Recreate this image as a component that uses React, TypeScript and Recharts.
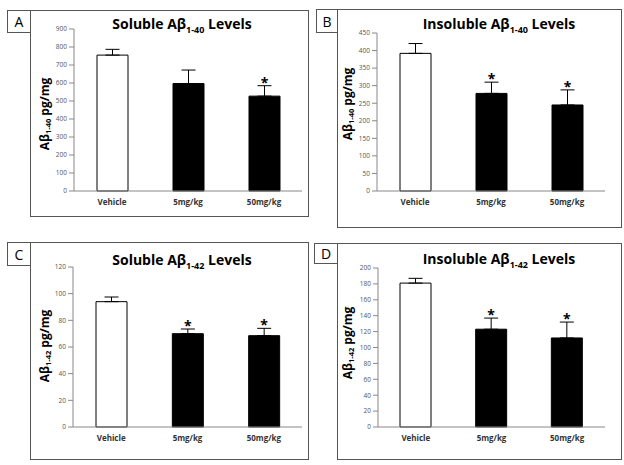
import React from "react";
import { BarChart, Bar, XAxis, YAxis, ErrorBar, Cell, LabelList } from "recharts";

const categories = ["Vehicle", "5mg/kg", "50mg/kg"];

// A: soluble Aβ1-40
const solA40 = [755, 597, 527];
const solA40Err = [32, 75, 58];
const solA40Sig = [false, false, true];
const solA40Ticks = [0, 100, 200, 300, 400, 500, 600, 700, 800, 900];

// B: insoluble Aβ1-40
const insA40 = [392, 278, 245];
const insA40Err = [28, 32, 43];
const insA40Sig = [false, true, true];
const insA40Ticks = [0, 50, 100, 150, 200, 250, 300, 350, 400, 450];

// C: soluble Aβ1-42
const solA42 = [94, 70, 68.5];
const solA42Err = [3.5, 3.5, 5.5];
const solA42Sig = [false, true, true];
const solA42Ticks = [0, 20, 40, 60, 80, 100, 120];

// D: insoluble Aβ1-42
const insA42 = [181, 123, 112];
const insA42Err = [6, 14, 20];
const insA42Sig = [false, true, true];
const insA42Ticks = [0, 20, 40, 60, 80, 100, 120, 140, 160, 180, 200];

const barFills = ["#ffffff", "#000000", "#000000"];

interface PanelProps {
  letter: string;
  title: string;
  sub: string;
  values: number[];
  errs: number[];
  sig: boolean[];
  ticks: number[];
  box: { x: number; y: number; w: number; h: number };
  plot: { x0: number; x1: number; y0: number; y1: number };
  labelBox: { x: number; y: number; w: number; h: number };
  titleX: number;
  titleY: number;
  yLabelX: number;
  yLabelY: number;
}

const titleFont = "'Open Sans', 'Noto Sans', sans-serif";
const tickFont = "'Open Sans', sans-serif";

function Panel(p: PanelProps) {
  const data = categories.map((c, i) => ({
    name: c,
    value: p.values[i],
    err: [0, p.errs[i]],
    sig: p.sig[i] ? "*" : "",
  }));
  const xAxisH = 22;
  const yAxisW = 30;
  const margin = {
    top: p.plot.y0 - p.box.y,
    left: p.plot.x0 - p.box.x - yAxisW,
    right: p.box.x + p.box.w - p.plot.x1,
    bottom: p.box.y + p.box.h - p.plot.y1 - xAxisH,
  };
  const max = p.ticks[p.ticks.length - 1];

  const renderStar = (props: any) => {
    const { x, y, width, height, index, value } = props;
    if (!value) return null;
    const pxPerUnit = height / p.values[index];
    const top = y - p.errs[index] * pxPerUnit;
    return (
      <text
        x={x + width / 2}
        y={top + 2}
        textAnchor="middle"
        fontSize={14}
        fontWeight="bold"
        fontFamily={titleFont}
        fill="#000"
      >
        {value}
      </text>
    );
  };

  return (
    <>
      <div
        style={{
          position: "absolute",
          left: p.box.x,
          top: p.box.y,
          width: p.box.w,
          height: p.box.h,
          border: "1px solid #555",
          boxSizing: "border-box",
        }}
      >
        <div style={{ position: "absolute", left: -1, top: -1 }}>
          <BarChart width={p.box.w} height={p.box.h} data={data} margin={margin}>
            <XAxis
              dataKey="name"
              height={xAxisH}
              tickLine={false}
              axisLine={{ stroke: "#888" }}
              tick={{ fontSize: 8, fontWeight: "bold", fill: "#333", fontFamily: tickFont }}
              interval={0}
            />
            <YAxis
              width={yAxisW}
              domain={[0, max]}
              ticks={p.ticks}
              interval={0}
              tickSize={5}
              tickMargin={2}
              axisLine={{ stroke: "#888" }}
              tickLine={{ stroke: "#888" }}
              tick={{ fontSize: 6.5, fill: "#555", fontFamily: tickFont }}
            />
            <Bar dataKey="value" barSize={31} stroke="#000" strokeWidth={1} isAnimationActive={false}>
              {data.map((d, i) => (
                <Cell key={d.name} fill={barFills[i]} />
              ))}
              <ErrorBar dataKey="err" width={7} stroke="#000" strokeWidth={1} direction="y" />
              <LabelList dataKey="sig" content={renderStar} />
            </Bar>
          </BarChart>
        </div>
      </div>
      <div
        style={{
          position: "absolute",
          left: p.labelBox.x,
          top: p.labelBox.y,
          width: p.labelBox.w,
          height: p.labelBox.h,
          border: "1px solid #555",
          boxSizing: "border-box",
          background: "#fff",
          fontFamily: titleFont,
          fontSize: 14,
          display: "flex",
          alignItems: "center",
          justifyContent: "center",
        }}
      >
        {p.letter}
      </div>
      <div
        style={{
          position: "absolute",
          left: p.titleX - 100,
          top: p.titleY - 10,
          width: 200,
          textAlign: "center",
          fontFamily: titleFont,
          fontWeight: "bold",
          fontSize: 14,
          lineHeight: "20px",
          whiteSpace: "nowrap",
        }}
      >
        {p.title} Aβ<sub style={{ fontSize: 9 }}>{p.sub}</sub> Levels
      </div>
      <div
        style={{
          position: "absolute",
          left: p.yLabelX - 60,
          top: p.yLabelY - 10,
          width: 120,
          height: 20,
          textAlign: "center",
          transform: "rotate(-90deg)",
          fontFamily: titleFont,
          fontWeight: "bold",
          fontSize: 12,
          lineHeight: "20px",
          whiteSpace: "nowrap",
        }}
      >
        Aβ<sub style={{ fontSize: 7.5, verticalAlign: "-2px" }}>{p.sub}</sub> pg/mg
      </div>
    </>
  );
}

export default function App() {
  return (
    <div style={{ position: "absolute", left: 0, top: 0, width: 624, height: 465, background: "#fff" }}>
      <Panel
        letter="A"
        title="Soluble"
        sub="1-40"
        values={solA40}
        errs={solA40Err}
        sig={solA40Sig}
        ticks={solA40Ticks}
        box={{ x: 30, y: 10, w: 279, h: 207 }}
        plot={{ x0: 74, x1: 302, y0: 29, y1: 191 }}
        labelBox={{ x: 7, y: 10, w: 24, h: 23 }}
        titleX={182}
        titleY={24}
        yLabelX={45}
        yLabelY={114}
      />
      <Panel
        letter="B"
        title="Insoluble"
        sub="1-40"
        values={insA40}
        errs={insA40Err}
        sig={insA40Sig}
        ticks={insA40Ticks}
        box={{ x: 337, y: 9, w: 285, h: 219 }}
        plot={{ x0: 377, x1: 605, y0: 33, y1: 191 }}
        labelBox={{ x: 316, y: 9, w: 22, h: 24 }}
        titleX={499}
        titleY={24}
        yLabelX={348}
        yLabelY={104}
      />
      <Panel
        letter="C"
        title="Soluble"
        sub="1-42"
        values={solA42}
        errs={solA42Err}
        sig={solA42Sig}
        ticks={solA42Ticks}
        box={{ x: 30, y: 242, w: 279, h: 218 }}
        plot={{ x0: 73, x1: 302, y0: 267, y1: 427 }}
        labelBox={{ x: 7, y: 242, w: 24, h: 24 }}
        titleX={182}
        titleY={260}
        yLabelX={45}
        yLabelY={346}
      />
      <Panel
        letter="D"
        title="Insoluble"
        sub="1-42"
        values={insA42}
        errs={insA42Err}
        sig={insA42Sig}
        ticks={insA42Ticks}
        box={{ x: 337, y: 243, w: 285, h: 217 }}
        plot={{ x0: 378, x1: 605, y0: 268, y1: 427 }}
        labelBox={{ x: 314, y: 243, w: 24, h: 21 }}
        titleX={499}
        titleY={259}
        yLabelX={348}
        yLabelY={343}
      />
    </div>
  );
}
